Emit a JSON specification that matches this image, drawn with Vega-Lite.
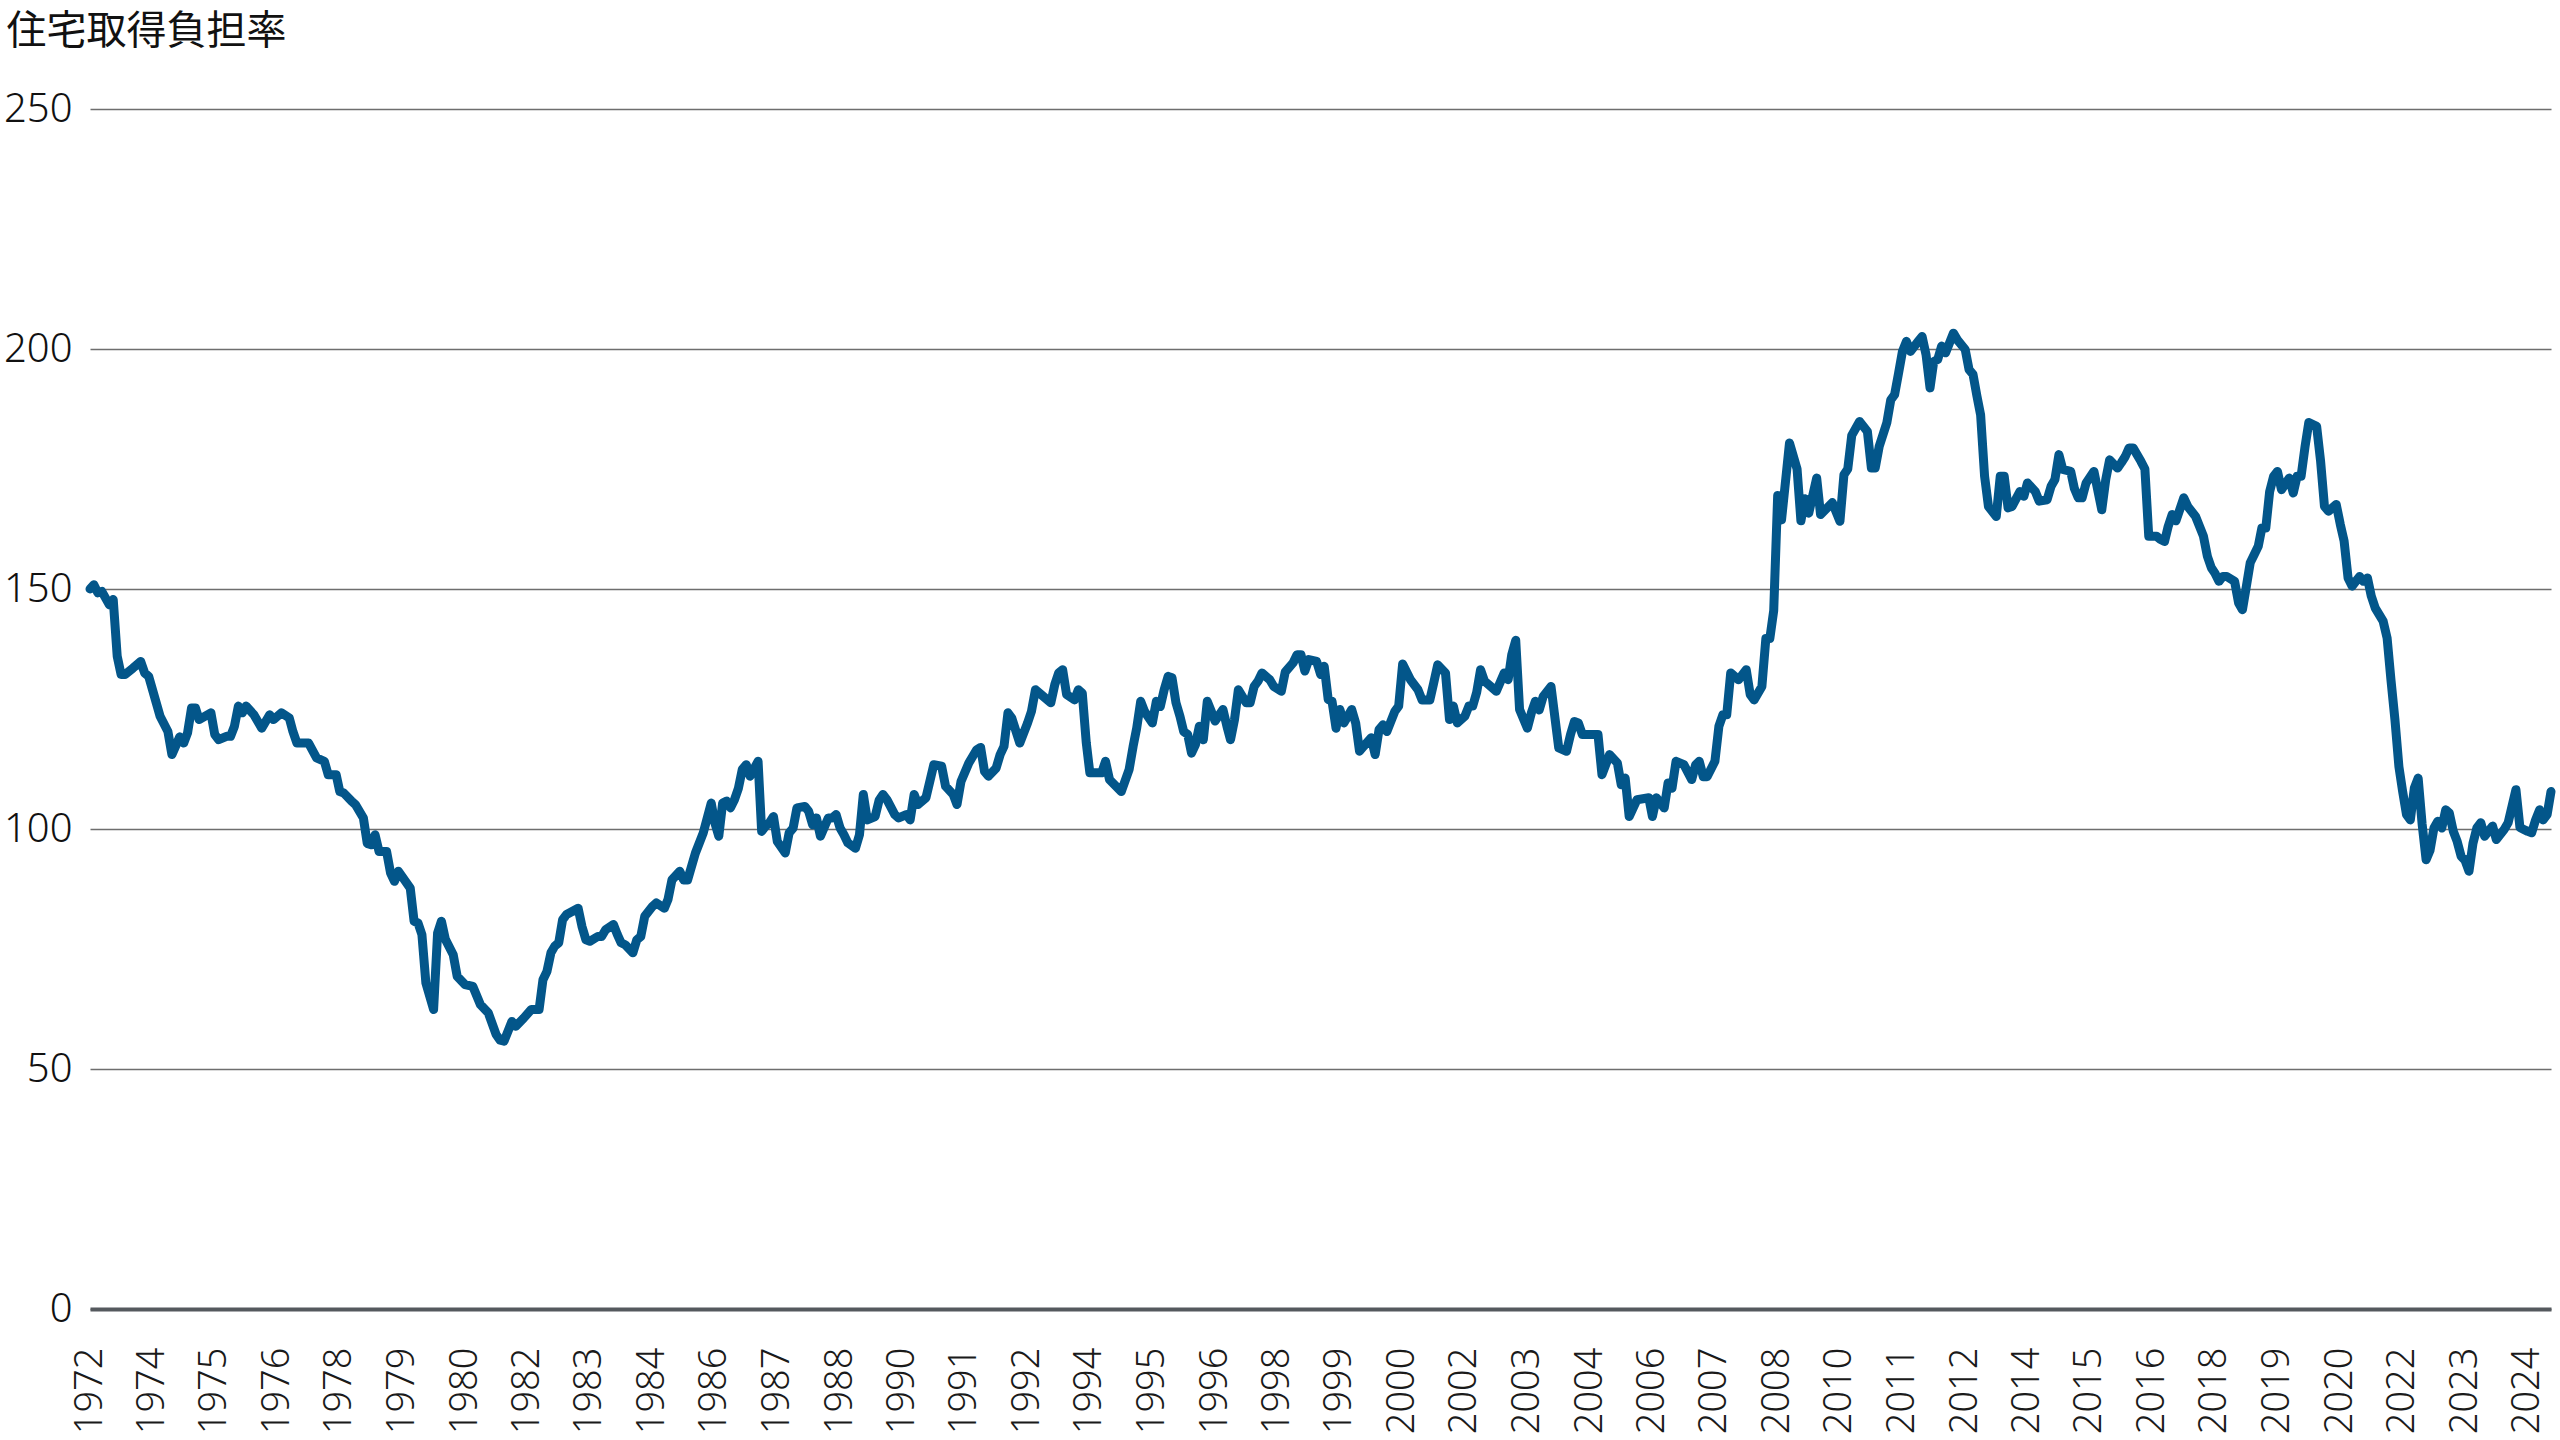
{
  "$schema": "https://vega.github.io/schema/vega-lite/v6.json",
  "width": 2461,
  "height": 1200,
  "autosize": "none",
  "padding": {"left": 90, "top": 109, "right": 9, "bottom": 131},
  "background": "#ffffff",
  "config": {"view": {"stroke": null}},
  "data": {
    "format": {"parse": {"date": "date:'%Y-%m'"}},
    "values": [
      {"date":"1972-11","value":150},{"date":"1972-12","value":150.9},{"date":"1973-01","value":149.2},{"date":"1973-02","value":149.5},{"date":"1973-04","value":146.7},{"date":"1973-05","value":147.8},{"date":"1973-06","value":136},{"date":"1973-07","value":132.2},{"date":"1973-08","value":132.2},{"date":"1973-10","value":133.5},{"date":"1973-12","value":134.9},
      {"date":"1974-01","value":132.5},{"date":"1974-02","value":131.8},{"date":"1974-04","value":126.3},{"date":"1974-05","value":123.5},{"date":"1974-07","value":120.3},{"date":"1974-08","value":115.5},{"date":"1974-10","value":119.2},{"date":"1974-11","value":117.9},{"date":"1974-12","value":120},
      {"date":"1975-01","value":125.2},{"date":"1975-02","value":125.2},{"date":"1975-03","value":122.8},{"date":"1975-06","value":124.2},{"date":"1975-07","value":119.7},{"date":"1975-08","value":118.6},{"date":"1975-10","value":119.3},{"date":"1975-11","value":119.3},{"date":"1975-12","value":121.4},
      {"date":"1976-01","value":125.6},{"date":"1976-02","value":124.2},{"date":"1976-03","value":125.6},{"date":"1976-05","value":123.8},{"date":"1976-07","value":121},{"date":"1976-09","value":123.8},{"date":"1976-10","value":122.8},{"date":"1976-12","value":124.2},
      {"date":"1977-02","value":123.1},{"date":"1977-03","value":120.3},{"date":"1977-04","value":117.9},{"date":"1977-07","value":117.9},{"date":"1977-09","value":114.8},{"date":"1977-11","value":114.1},{"date":"1977-12","value":111.3},
      {"date":"1978-02","value":111.3},{"date":"1978-03","value":107.8},{"date":"1978-04","value":107.5},{"date":"1978-06","value":105.8},{"date":"1978-07","value":105.1},{"date":"1978-09","value":102.3},{"date":"1978-10","value":97},{"date":"1978-11","value":96.7},{"date":"1978-12","value":98.8},
      {"date":"1979-01","value":95.3},{"date":"1979-03","value":95.3},{"date":"1979-04","value":90.8},{"date":"1979-05","value":89.1},{"date":"1979-06","value":91.2},{"date":"1979-09","value":87.7},{"date":"1979-10","value":80.8},{"date":"1979-11","value":80.4},{"date":"1979-12","value":78},
      {"date":"1980-01","value":67.9},{"date":"1980-03","value":62.4},{"date":"1980-04","value":78.3},{"date":"1980-05","value":80.8},{"date":"1980-06","value":77},{"date":"1980-08","value":73.8},{"date":"1980-09","value":69.3},{"date":"1980-11","value":67.6},
      {"date":"1981-01","value":67.2},{"date":"1981-03","value":63.4},{"date":"1981-05","value":61.7},{"date":"1981-07","value":57.2},{"date":"1981-08","value":56},{"date":"1981-09","value":55.8},{"date":"1981-11","value":59.9},{"date":"1981-12","value":58.9},
      {"date":"1982-02","value":60.6},{"date":"1982-04","value":62.4},{"date":"1982-06","value":62.4},{"date":"1982-07","value":68.6},{"date":"1982-08","value":70.3},{"date":"1982-09","value":74.2},{"date":"1982-10","value":75.6},{"date":"1982-11","value":76.3},{"date":"1982-12","value":81.1},
      {"date":"1983-01","value":82.2},{"date":"1983-04","value":83.5},{"date":"1983-05","value":79.7},{"date":"1983-06","value":76.9},{"date":"1983-07","value":76.6},{"date":"1983-09","value":77.6},{"date":"1983-10","value":77.6},{"date":"1983-11","value":79},
      {"date":"1984-01","value":80.1},{"date":"1984-02","value":78},{"date":"1984-03","value":76.3},{"date":"1984-04","value":75.9},{"date":"1984-06","value":74.2},{"date":"1984-07","value":76.9},{"date":"1984-08","value":77.6},{"date":"1984-09","value":81.8},{"date":"1984-11","value":83.9},{"date":"1984-12","value":84.6},
      {"date":"1985-02","value":83.5},{"date":"1985-03","value":85.3},{"date":"1985-04","value":89.4},{"date":"1985-06","value":91.2},{"date":"1985-07","value":89.4},{"date":"1985-08","value":89.4},{"date":"1985-10","value":95},{"date":"1985-12","value":99.2},
      {"date":"1986-02","value":105.4},{"date":"1986-03","value":101.3},{"date":"1986-04","value":98.5},{"date":"1986-05","value":105.4},{"date":"1986-06","value":105.8},{"date":"1986-07","value":104.4},{"date":"1986-08","value":106.1},{"date":"1986-09","value":108.5},{"date":"1986-10","value":112.4},{"date":"1986-11","value":113.4},{"date":"1986-12","value":111},
      {"date":"1987-02","value":114.1},{"date":"1987-03","value":99.5},{"date":"1987-04","value":100.6},{"date":"1987-05","value":101.3},{"date":"1987-06","value":102.6},{"date":"1987-07","value":97.4},{"date":"1987-09","value":95},{"date":"1987-10","value":99.2},{"date":"1987-11","value":100.2},{"date":"1987-12","value":104.4},
      {"date":"1988-02","value":104.7},{"date":"1988-03","value":103.7},{"date":"1988-04","value":100.9},{"date":"1988-05","value":102.3},{"date":"1988-06","value":98.5},{"date":"1988-08","value":102.3},{"date":"1988-09","value":102.3},{"date":"1988-10","value":103},{"date":"1988-11","value":100.2},{"date":"1988-12","value":98.8},
      {"date":"1989-01","value":97.1},{"date":"1989-03","value":96},{"date":"1989-04","value":98.8},{"date":"1989-05","value":107.2},{"date":"1989-06","value":101.9},{"date":"1989-08","value":102.6},{"date":"1989-09","value":106},{"date":"1989-10","value":107.2},{"date":"1989-11","value":106.1},
      {"date":"1990-01","value":103},{"date":"1990-02","value":102.3},{"date":"1990-04","value":103},{"date":"1990-05","value":101.9},{"date":"1990-06","value":107.2},{"date":"1990-07","value":105.1},{"date":"1990-09","value":106.5},{"date":"1990-11","value":113.4},
      {"date":"1991-01","value":113.1},{"date":"1991-02","value":108.9},{"date":"1991-04","value":107.2},{"date":"1991-05","value":105.1},{"date":"1991-06","value":109.9},{"date":"1991-08","value":113.75},{"date":"1991-10","value":116.5},{"date":"1991-11","value":117},{"date":"1991-12","value":112},
      {"date":"1992-01","value":111},{"date":"1992-03","value":112.7},{"date":"1992-04","value":115.5},{"date":"1992-05","value":117.2},{"date":"1992-06","value":124.2},{"date":"1992-07","value":123.1},{"date":"1992-09","value":117.9},{"date":"1992-11","value":122.1},{"date":"1992-12","value":124.5},
      {"date":"1993-01","value":129},{"date":"1993-05","value":126.3},{"date":"1993-06","value":130.1},{"date":"1993-07","value":132.5},{"date":"1993-08","value":133.2},{"date":"1993-09","value":128},{"date":"1993-11","value":126.9},{"date":"1993-12","value":129},
      {"date":"1994-01","value":128.3},{"date":"1994-02","value":118},{"date":"1994-03","value":111.7},{"date":"1994-06","value":111.7},{"date":"1994-07","value":114.1},{"date":"1994-08","value":110.3},{"date":"1994-11","value":107.8},
      {"date":"1995-01","value":112.4},{"date":"1995-02","value":117.2},{"date":"1995-03","value":121},{"date":"1995-04","value":126.6},{"date":"1995-05","value":124.5},{"date":"1995-07","value":122.1},{"date":"1995-08","value":126.6},{"date":"1995-09","value":125.5},{"date":"1995-10","value":129},{"date":"1995-11","value":131.8},{"date":"1995-12","value":131.5},
      {"date":"1996-01","value":126.3},{"date":"1996-02","value":123.5},{"date":"1996-03","value":120.3},{"date":"1996-04","value":119.7},{"date":"1996-05","value":115.8},{"date":"1996-06","value":117.6},{"date":"1996-07","value":121.4},{"date":"1996-08","value":118.6},{"date":"1996-09","value":126.6},{"date":"1996-11","value":122.5},
      {"date":"1997-01","value":124.9},{"date":"1997-02","value":121.4},{"date":"1997-03","value":118.6},{"date":"1997-04","value":122.8},{"date":"1997-05","value":129},{"date":"1997-07","value":126.3},{"date":"1997-08","value":126.3},{"date":"1997-09","value":129.7},{"date":"1997-10","value":130.8},{"date":"1997-11","value":132.5},
      {"date":"1998-01","value":131.1},{"date":"1998-02","value":129.7},{"date":"1998-04","value":128.7},{"date":"1998-05","value":132.7},{"date":"1998-07","value":134.6},{"date":"1998-08","value":136.3},{"date":"1998-09","value":136.3},{"date":"1998-10","value":132.9},{"date":"1998-11","value":135.3},
      {"date":"1999-01","value":134.9},{"date":"1999-02","value":132.2},{"date":"1999-03","value":133.9},{"date":"1999-04","value":127},{"date":"1999-05","value":126.6},{"date":"1999-06","value":121},{"date":"1999-07","value":124.9},{"date":"1999-08","value":122.1},{"date":"1999-10","value":124.9},{"date":"1999-11","value":122.1},{"date":"1999-12","value":116.2},
      {"date":"2000-01","value":117.2},{"date":"2000-03","value":119},{"date":"2000-04","value":115.5},{"date":"2000-05","value":120.7},{"date":"2000-06","value":121.7},{"date":"2000-07","value":120.3},{"date":"2000-09","value":124.5},{"date":"2000-10","value":125.6},{"date":"2000-11","value":134.4},
      {"date":"2001-01","value":131.1},{"date":"2001-03","value":129},{"date":"2001-04","value":126.9},{"date":"2001-06","value":126.9},{"date":"2001-07","value":130.4},{"date":"2001-08","value":134.2},{"date":"2001-10","value":132.5},{"date":"2001-11","value":122.8},{"date":"2001-12","value":125.6},
      {"date":"2002-01","value":122.1},{"date":"2002-03","value":123.5},{"date":"2002-04","value":125.6},{"date":"2002-05","value":125.6},{"date":"2002-06","value":128.5},{"date":"2002-07","value":133.2},{"date":"2002-08","value":130.8},{"date":"2002-11","value":128.7},
      {"date":"2003-01","value":132.5},{"date":"2003-02","value":131.1},{"date":"2003-03","value":136.3},{"date":"2003-04","value":139.3},{"date":"2003-05","value":124.9},{"date":"2003-07","value":121},{"date":"2003-08","value":124.2},{"date":"2003-09","value":126.6},{"date":"2003-10","value":124.8},{"date":"2003-11","value":127.6},
      {"date":"2004-01","value":129.7},{"date":"2004-03","value":116.9},{"date":"2004-05","value":116.2},{"date":"2004-06","value":119.7},{"date":"2004-07","value":122.4},{"date":"2004-08","value":122.1},{"date":"2004-09","value":119.7},
      {"date":"2005-01","value":119.7},{"date":"2005-02","value":111.3},{"date":"2005-04","value":115.5},{"date":"2005-06","value":113.75},{"date":"2005-07","value":109.2},{"date":"2005-08","value":110.6},{"date":"2005-09","value":102.6},{"date":"2005-11","value":106.1},
      {"date":"2006-02","value":106.5},{"date":"2006-03","value":102.6},{"date":"2006-04","value":106.5},{"date":"2006-06","value":104.4},{"date":"2006-07","value":109.6},{"date":"2006-08","value":108.5},{"date":"2006-09","value":114.1},{"date":"2006-11","value":113.4},
      {"date":"2007-01","value":110.3},{"date":"2007-02","value":113.4},{"date":"2007-03","value":114.1},{"date":"2007-04","value":110.9},{"date":"2007-05","value":110.9},{"date":"2007-07","value":114.1},{"date":"2007-08","value":121.4},{"date":"2007-09","value":123.8},{"date":"2007-10","value":123.8},{"date":"2007-11","value":132.5},
      {"date":"2008-01","value":131.1},{"date":"2008-03","value":133.2},{"date":"2008-04","value":128},{"date":"2008-05","value":126.9},{"date":"2008-07","value":129.7},{"date":"2008-08","value":139.7},{"date":"2008-09","value":139.7},{"date":"2008-10","value":145.5},{"date":"2008-11","value":169.5},{"date":"2008-12","value":164.4},
      {"date":"2009-02","value":180.4},{"date":"2009-04","value":175},{"date":"2009-05","value":164.2},{"date":"2009-06","value":168.8},{"date":"2009-07","value":165.8},{"date":"2009-09","value":173.1},{"date":"2009-10","value":165.5},
      {"date":"2010-01","value":168},{"date":"2010-03","value":164.1},{"date":"2010-04","value":173.8},{"date":"2010-05","value":175},{"date":"2010-06","value":182},{"date":"2010-08","value":184.9},{"date":"2010-10","value":182.8},{"date":"2010-11","value":175.2},{"date":"2010-12","value":175.2},
      {"date":"2011-01","value":179.7},{"date":"2011-03","value":184.6},{"date":"2011-04","value":189.4},{"date":"2011-05","value":190.5},{"date":"2011-06","value":195},{"date":"2011-07","value":199.5},{"date":"2011-08","value":201.6},{"date":"2011-09","value":199.5},{"date":"2011-11","value":201.6},{"date":"2011-12","value":202.6},
      {"date":"2012-01","value":198.8},{"date":"2012-02","value":191.9},{"date":"2012-03","value":197.4},{"date":"2012-04","value":197.8},{"date":"2012-05","value":200.6},{"date":"2012-06","value":199.2},{"date":"2012-08","value":203.3},{"date":"2012-09","value":201.9},{"date":"2012-11","value":199.9},{"date":"2012-12","value":195.7},
      {"date":"2013-01","value":194.7},{"date":"2013-02","value":190.1},{"date":"2013-03","value":186.3},{"date":"2013-04","value":173.5},{"date":"2013-05","value":167.2},{"date":"2013-07","value":165.1},{"date":"2013-08","value":173.5},{"date":"2013-09","value":173.5},{"date":"2013-10","value":166.9},{"date":"2013-11","value":167.2},
      {"date":"2014-01","value":170.3},{"date":"2014-02","value":169.3},{"date":"2014-03","value":172.1},{"date":"2014-05","value":170.3},{"date":"2014-06","value":168.3},{"date":"2014-08","value":168.6},{"date":"2014-09","value":171.4},{"date":"2014-10","value":172.8},{"date":"2014-11","value":178},{"date":"2014-12","value":174.9},
      {"date":"2015-02","value":174.5},{"date":"2015-03","value":171},{"date":"2015-04","value":169},{"date":"2015-05","value":169},{"date":"2015-06","value":172.1},{"date":"2015-08","value":174.5},{"date":"2015-10","value":166.5},{"date":"2015-11","value":172.8},{"date":"2015-12","value":176.9},
      {"date":"2016-02","value":175.2},{"date":"2016-03","value":176.3},{"date":"2016-04","value":177.6},{"date":"2016-05","value":179.4},{"date":"2016-06","value":179.4},{"date":"2016-08","value":176.6},{"date":"2016-09","value":175},{"date":"2016-10","value":161},{"date":"2016-12","value":161},
      {"date":"2017-01","value":160.3},{"date":"2017-02","value":159.9},{"date":"2017-03","value":163},{"date":"2017-04","value":165.5},{"date":"2017-05","value":164.2},{"date":"2017-07","value":169},{"date":"2017-08","value":167.2},{"date":"2017-10","value":165.1},{"date":"2017-12","value":161},
      {"date":"2018-01","value":156.8},{"date":"2018-02","value":154.4},{"date":"2018-03","value":153.3},{"date":"2018-04","value":151.6},{"date":"2018-05","value":152.6},{"date":"2018-06","value":152.6},{"date":"2018-08","value":151.6},{"date":"2018-09","value":147.1},{"date":"2018-10","value":145.7},{"date":"2018-11","value":150.6},{"date":"2018-12","value":155.5},
      {"date":"2019-01","value":157.2},{"date":"2019-02","value":158.9},{"date":"2019-03","value":162.7},{"date":"2019-04","value":162.7},{"date":"2019-05","value":170.3},{"date":"2019-06","value":173.5},{"date":"2019-07","value":174.5},{"date":"2019-08","value":170.7},{"date":"2019-10","value":173.1},{"date":"2019-11","value":170},{"date":"2019-12","value":173.5},
      {"date":"2020-01","value":173.5},{"date":"2020-02","value":179.7},{"date":"2020-03","value":184.7},{"date":"2020-05","value":183.9},{"date":"2020-06","value":176.6},{"date":"2020-07","value":167.2},{"date":"2020-08","value":166.2},{"date":"2020-10","value":167.6},{"date":"2020-11","value":163.5},{"date":"2020-12","value":160},
      {"date":"2021-01","value":152.3},{"date":"2021-02","value":150.6},{"date":"2021-04","value":152.6},{"date":"2021-05","value":151.6},{"date":"2021-06","value":152.3},{"date":"2021-07","value":148.5},{"date":"2021-08","value":146},{"date":"2021-10","value":143.3},{"date":"2021-11","value":139.8},{"date":"2021-12","value":131.1},
      {"date":"2022-01","value":122.8},{"date":"2022-02","value":113},{"date":"2022-03","value":108},{"date":"2022-04","value":103},{"date":"2022-05","value":101.9},{"date":"2022-06","value":108.5},{"date":"2022-07","value":110.6},{"date":"2022-08","value":101},{"date":"2022-09","value":93.6},{"date":"2022-10","value":95.5},{"date":"2022-11","value":100.2},{"date":"2022-12","value":101.6},
      {"date":"2023-01","value":100.2},{"date":"2023-02","value":104},{"date":"2023-03","value":103.3},{"date":"2023-04","value":99.5},{"date":"2023-05","value":97.4},{"date":"2023-06","value":94.3},{"date":"2023-07","value":93.5},{"date":"2023-08","value":91.2},{"date":"2023-09","value":97},{"date":"2023-10","value":100.2},{"date":"2023-11","value":101.3},{"date":"2023-12","value":98.5},
      {"date":"2024-02","value":100.6},{"date":"2024-03","value":97.8},{"date":"2024-05","value":99.9},{"date":"2024-06","value":101.3},{"date":"2024-08","value":108.2},{"date":"2024-09","value":100.3},{"date":"2024-10","value":99.9},{"date":"2024-11","value":99.5},{"date":"2024-12","value":99.2},
      {"date":"2025-01","value":101.9},{"date":"2025-02","value":104},{"date":"2025-03","value":101.9},{"date":"2025-04","value":103},{"date":"2025-05","value":107.8}
    ]
  },
  "mark": {"type": "line", "color": "#03568a", "strokeWidth": 9, "strokeJoin": "round", "strokeCap": "round"},
  "encoding": {
    "x": {
      "field": "date",
      "type": "temporal",
      "scale": {"domain": [{"year": 1972, "month": 11, "date": 1}, {"year": 2025, "month": 5, "date": 1}], "nice": false},
      "axis": {
        "title": null,
        "values": [
          {"year":1972,"month":11,"date":1},{"year":1974,"month":3,"date":1},{"year":1975,"month":7,"date":1},
          {"year":1976,"month":11,"date":1},{"year":1978,"month":3,"date":1},{"year":1979,"month":7,"date":1},
          {"year":1980,"month":11,"date":1},{"year":1982,"month":3,"date":1},{"year":1983,"month":7,"date":1},
          {"year":1984,"month":11,"date":1},{"year":1986,"month":3,"date":1},{"year":1987,"month":7,"date":1},
          {"year":1988,"month":11,"date":1},{"year":1990,"month":3,"date":1},{"year":1991,"month":7,"date":1},
          {"year":1992,"month":11,"date":1},{"year":1994,"month":3,"date":1},{"year":1995,"month":7,"date":1},
          {"year":1996,"month":11,"date":1},{"year":1998,"month":3,"date":1},{"year":1999,"month":7,"date":1},
          {"year":2000,"month":11,"date":1},{"year":2002,"month":3,"date":1},{"year":2003,"month":7,"date":1},
          {"year":2004,"month":11,"date":1},{"year":2006,"month":3,"date":1},{"year":2007,"month":7,"date":1},
          {"year":2008,"month":11,"date":1},{"year":2010,"month":3,"date":1},{"year":2011,"month":7,"date":1},
          {"year":2012,"month":11,"date":1},{"year":2014,"month":3,"date":1},{"year":2015,"month":7,"date":1},
          {"year":2016,"month":11,"date":1},{"year":2018,"month":3,"date":1},{"year":2019,"month":7,"date":1},
          {"year":2020,"month":11,"date":1},{"year":2022,"month":3,"date":1},{"year":2023,"month":7,"date":1},
          {"year":2024,"month":11,"date":1}
        ],
        "format": "%Y",
        "labelAngle": 270,
        "labelAlign": "right",
        "labelBaseline": "middle",
        "labelPadding": 38,
        "labelFont": "Noto Sans",
        "labelFontWeight": 300,
        "labelFontSize": 38,
        "labelColor": "#1a1a1a",
        "labelOverlap": false,
        "labelFlush": false,
        "ticks": false,
        "tickSize": 0,
        "grid": false,
        "domain": true,
        "domainColor": "#55595e",
        "domainWidth": 4
      }
    },
    "y": {
      "field": "value",
      "type": "quantitative",
      "scale": {"domain": [0, 250], "nice": false, "zero": true},
      "axis": {
        "title": "住宅取得負担率",
        "titleAngle": 0,
        "titleAlign": "left",
        "titleBaseline": "top",
        "titleX": -84,
        "titleY": -98,
        "titleFont": "Noto Sans CJK JP",
        "titleFontSize": 40,
        "titleFontWeight": 400,
        "titleColor": "#111111",
        "values": [0, 50, 100, 150, 200, 250],
        "labelFont": "Noto Sans",
        "labelFontWeight": 300,
        "labelFontSize": 40,
        "labelColor": "#111111",
        "labelPadding": 18,
        "ticks": false,
        "tickSize": 0,
        "domain": false,
        "grid": true,
        "gridColor": "#6e6e6e",
        "gridWidth": 1.6
      }
    }
  }
}
